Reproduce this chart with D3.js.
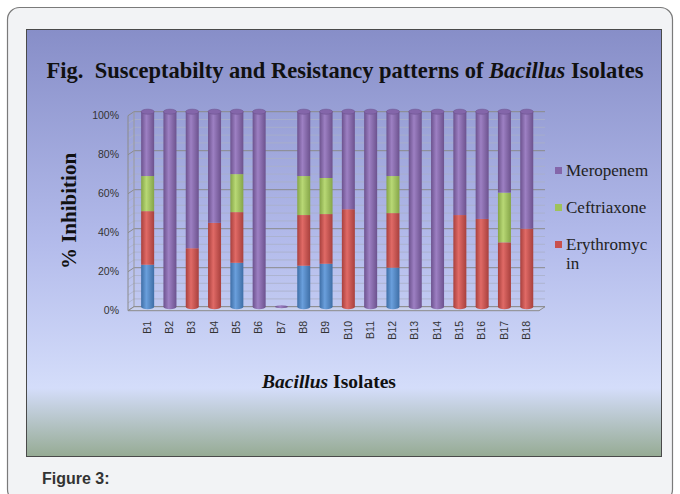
<!DOCTYPE html>
<html>
<head>
<meta charset="utf-8">
<script src="https://cdn.jsdelivr.net/npm/d3@7"></script>
<style>
  body { margin: 0; background: #fff; }
  svg { display: block; }
</style>
</head>
<body>
<div id="chart"></div>
<script>
// --- Data ---
const isolates = ['B1','B2','B3','B4','B5','B6','B7','B8','B9','B10','B11','B12','B13','B14','B15','B16','B17','B18'];
const other       = [21.5, 0, 0, 0, 22.5, 0, 0, 21, 22, 0, 0, 20, 0, 0, 0, 0, 0, 0];
const erythromycin = [27.5, 0, 30, 43, 26, 0, 0, 26, 25.5, 50, 0, 28, 0, 0, 47, 45, 33, 40];
const ceftriaxone = [18, 0, 0, 0, 19.5, 0, 0, 20, 18.5, 0, 0, 19, 0, 0, 0, 0, 25.5, 0];
const meropenem   = [33, 100, 70, 57, 32, 100, 0, 33, 34, 50, 100, 33, 100, 100, 53, 55, 41.5, 60];
const yTicks = [0, 20, 40, 60, 80, 100];

const seriesKeys = ['other', 'erythromycin', 'ceftriaxone', 'meropenem'];
const colors = {
  other:        {base: '#4f84c2', light: '#6a9fdc', dark: '#3e6ea6'},
  erythromycin: {base: '#c9504d', light: '#e06a66', dark: '#a8403d'},
  ceftriaxone:  {base: '#9fc25a', light: '#b8d875', dark: '#85a548'},
  meropenem:    {base: '#8466aa', light: '#9d80c3', dark: '#6c528e'}
};
const legendItems = [
  {key: 'meropenem', lines: ['Meropenem']},
  {key: 'ceftriaxone', lines: ['Ceftriaxone']},
  {key: 'erythromycin', lines: ['Erythromyc', 'in']}
];

const table = isolates.map((name, i) => ({
  name,
  other: other[i],
  erythromycin: erythromycin[i],
  ceftriaxone: ceftriaxone[i],
  meropenem: meropenem[i]
}));

const W = 680, H = 494;
const svg = d3.select('#chart').append('svg').attr('width', W).attr('height', H);
const defs = svg.append('defs');

// panel background gradient
const bg = defs.append('linearGradient').attr('id', 'bg').attr('x1', 0).attr('y1', 0).attr('x2', 0).attr('y2', 1);
bg.append('stop').attr('offset', '0%').attr('stop-color', '#878ec8');
bg.append('stop').attr('offset', '50%').attr('stop-color', '#b3bbeb');
bg.append('stop').attr('offset', '84%').attr('stop-color', '#d4ddfa');
bg.append('stop').attr('offset', '100%').attr('stop-color', '#96ab94');

Object.keys(colors).forEach(k => {
  const g = defs.append('linearGradient').attr('id', 'g-' + k).attr('x1', 0).attr('y1', 0).attr('x2', 1).attr('y2', 0);
  g.append('stop').attr('offset', '0%').attr('stop-color', colors[k].dark);
  g.append('stop').attr('offset', '40%').attr('stop-color', colors[k].light);
  g.append('stop').attr('offset', '100%').attr('stop-color', colors[k].dark);
});

// card
svg.append('rect')
  .attr('x', 7.5).attr('y', 7.5).attr('width', 665).attr('height', 494)
  .attr('rx', 12)
  .attr('fill', '#f2f3f5').attr('stroke', '#7a7a7a').attr('stroke-width', 1.2);

// chart panel
svg.append('rect')
  .attr('x', 26.5).attr('y', 29.5).attr('width', 635).attr('height', 427)
  .attr('fill', 'url(#bg)').attr('stroke', '#4a4a4a');

// title
const title = svg.append('text')
  .attr('x', 345).attr('y', 78)
  .attr('text-anchor', 'middle')
  .style('white-space', 'pre')
  .attr('font-family', '"Liberation Serif", "Times New Roman", serif')
  .attr('font-size', 22.5).attr('font-weight', 'bold').attr('fill', '#111');
title.append('tspan').text('Fig.  Susceptabilty and Resistancy patterns of ');
title.append('tspan').attr('font-style', 'italic').text('Bacillus');
title.append('tspan').text(' Isolates');

// scales
const x = d3.scalePoint().domain(isolates).range([136.5, 537.9]).padding(0.5);
const y = d3.scaleLinear().domain([0, 100]).range([306.7, 111.7]);
const depthX = 6, depthY = 4;
const wallLeft = 134, wallRight = 545;

// grid: minor then major
const grid = svg.append('g');
const minor = d3.range(0, 101, 4).filter(v => v % 20 !== 0);
grid.selectAll('.minor').data(minor).join('line')
  .attr('x1', wallLeft).attr('x2', wallRight)
  .attr('y1', d => y(d)).attr('y2', d => y(d))
  .attr('stroke', '#aab0c8').attr('stroke-width', 0.8);
grid.selectAll('.minorside').data(minor).join('line')
  .attr('x1', wallLeft - depthX).attr('x2', wallLeft)
  .attr('y1', d => y(d) + depthY).attr('y2', d => y(d))
  .attr('stroke', '#aab0c8').attr('stroke-width', 0.8);
grid.selectAll('.major').data(yTicks).join('line')
  .attr('x1', wallLeft).attr('x2', wallRight)
  .attr('y1', d => y(d)).attr('y2', d => y(d))
  .attr('stroke', '#8a8a8a').attr('stroke-width', 1);
grid.selectAll('.majorside').data(yTicks).join('line')
  .attr('x1', wallLeft - depthX).attr('x2', wallLeft)
  .attr('y1', d => y(d) + depthY).attr('y2', d => y(d))
  .attr('stroke', '#8a8a8a').attr('stroke-width', 1);
// walls edges
grid.append('line')
  .attr('x1', wallLeft).attr('x2', wallLeft).attr('y1', y(100)).attr('y2', y(0))
  .attr('stroke', '#9a9a9a');
grid.append('line')
  .attr('x1', wallLeft - depthX).attr('x2', wallLeft - depthX).attr('y1', y(100) + depthY).attr('y2', y(0) + depthY)
  .attr('stroke', '#8a8a8a');
// floor
grid.append('path')
  .attr('d', `M${wallLeft - depthX},${y(0) + depthY} L${wallRight - depthX},${y(0) + depthY} L${wallRight},${y(0)} L${wallLeft},${y(0)} Z`)
  .attr('fill', '#c9d1ee').attr('stroke', '#8a8a8a');

// y axis labels
svg.append('g').selectAll('text').data(yTicks).join('text')
  .attr('x', 119).attr('y', d => y(d) + depthY + 3)
  .attr('text-anchor', 'end')
  .attr('font-family', 'Arial, "Liberation Sans", sans-serif')
  .attr('font-size', 10.5).attr('fill', '#333')
  .text(d => d + '%');

// stacked cylinders
const stack = d3.stack().keys(seriesKeys).offset(d3.stackOffsetExpand);
const layers = stack(table);
const bw = 13, ry = 2.5;
const yPct = v => y(v * 100);

const bars = svg.append('g');
// bottom caps
bars.selectAll('.base').data(table).join('ellipse')
  .attr('cx', d => x(d.name)).attr('cy', y(0))
  .attr('rx', bw / 2).attr('ry', d => d3.sum(seriesKeys, k => d[k]) > 0 ? ry : 1.5)
  .attr('fill', d => {
    const k = seriesKeys.find(k => d[k] > 0) || 'meropenem';
    return `url(#g-${k})`;
  });

layers.forEach(layer => {
  bars.selectAll('.seg-' + layer.key)
    .data(layer.filter(d => d[1] - d[0] > 0))
    .join('rect')
    .attr('x', d => x(d.data.name) - bw / 2)
    .attr('y', d => yPct(d[1]))
    .attr('width', bw)
    .attr('height', d => yPct(d[0]) - yPct(d[1]))
    .attr('fill', `url(#g-${layer.key})`);
});

// top caps
bars.selectAll('.cap').data(table.filter(d => d3.sum(seriesKeys, k => d[k]) > 0)).join('ellipse')
  .attr('cx', d => x(d.name)).attr('cy', y(100))
  .attr('rx', bw / 2).attr('ry', ry)
  .attr('fill', d => {
    const k = seriesKeys.slice().reverse().find(k => d[k] > 0);
    return colors[k].base;
  })
  .attr('stroke', d => {
    const k = seriesKeys.slice().reverse().find(k => d[k] > 0);
    return colors[k].dark;
  })
  .attr('stroke-width', 0.6);

// x labels
svg.append('g').selectAll('text').data(isolates).join('text')
  .attr('transform', d => `translate(${x(d) - 0.5},321) rotate(-90)`)
  .attr('text-anchor', 'end')
  .attr('dy', '0.35em')
  .attr('font-family', 'Arial, "Liberation Sans", sans-serif')
  .attr('font-size', 10.5).attr('fill', '#333')
  .text(d => d);

// axis titles
svg.append('text')
  .attr('transform', 'translate(76,211) rotate(-90)')
  .attr('text-anchor', 'middle')
  .attr('font-family', '"Liberation Serif", "Times New Roman", serif')
  .attr('font-size', 21).attr('font-weight', 'bold').attr('fill', '#111')
  .text('% Inhibition');

const xt = svg.append('text')
  .attr('x', 329).attr('y', 388)
  .attr('text-anchor', 'middle')
  .style('white-space', 'pre')
  .attr('font-family', '"Liberation Serif", "Times New Roman", serif')
  .attr('font-size', 19.5).attr('font-weight', 'bold').attr('fill', '#111');
xt.append('tspan').attr('font-style', 'italic').text('Bacillus');
xt.append('tspan').text(' Isolates');

// legend
const legend = svg.append('g');
const legendY = [176, 213, 250];
legendItems.forEach((item, i) => {
  legend.append('rect')
    .attr('x', 555).attr('y', legendY[i] - 9).attr('width', 7).attr('height', 7)
    .attr('fill', colors[item.key].base);
  item.lines.forEach((ln, j) => {
    legend.append('text')
      .attr('x', 566).attr('y', legendY[i] + j * 18.5)
      .attr('font-family', '"Liberation Serif", "Times New Roman", serif')
      .attr('font-size', 17).attr('fill', '#222')
      .text(ln);
  });
});

// caption
svg.append('text')
  .attr('x', 42).attr('y', 484)
  .attr('font-family', 'Arial, "Liberation Sans", sans-serif')
  .attr('font-size', 16).attr('font-weight', 'bold').attr('fill', '#333')
  .text('Figure 3:');
</script>
</body>
</html>
